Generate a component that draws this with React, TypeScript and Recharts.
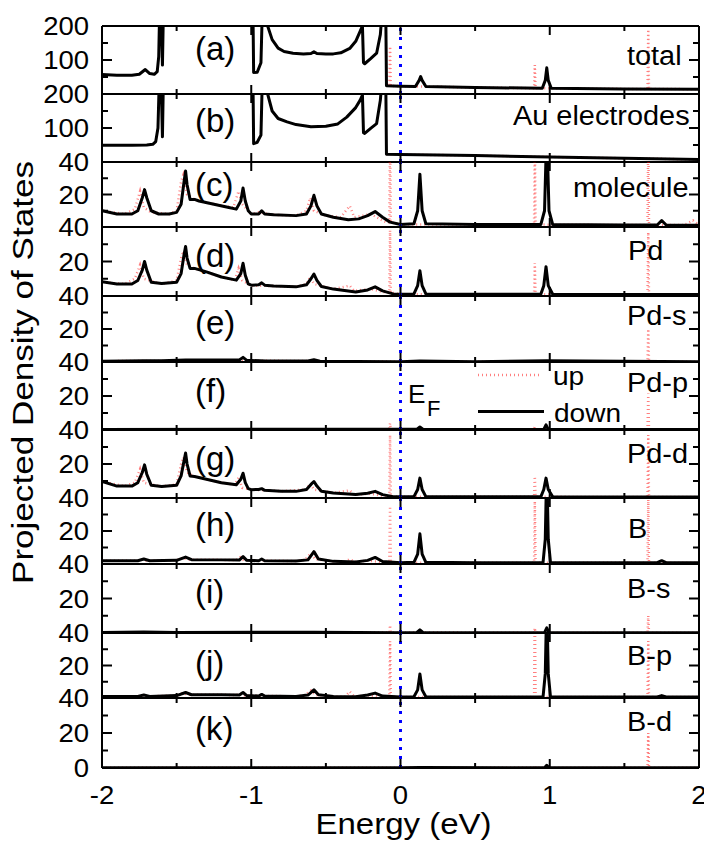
import React from 'react';
import { LineChart, Line, XAxis, YAxis, ReferenceLine } from 'recharts';

type Pt = [number, number];

const LETTERS = ['(a)', '(b)', '(c)', '(d)', '(e)', '(f)', '(g)', '(h)', '(i)', '(j)', '(k)'];
const NAMES = ['total', 'Au electrodes', 'molecule', 'Pd', 'Pd-s', 'Pd-p', 'Pd-d', 'B', 'B-s', 'B-p', 'B-d'];
const Y_MAX = [200, 200, 40, 40, 40, 40, 40, 40, 40, 40, 40];
const X_TICKS = [-2, -1.5, -1, -0.5, 0, 0.5, 1, 1.5, 2];

// spin down (black) and spin up (red dotted), [energy eV, PDOS]
const TOTAL_DN: Pt[] = [
  [-2, 57], [-1.9, 55], [-1.8, 55], [-1.75, 58], [-1.71, 72], [-1.68, 60], [-1.65, 58], [-1.63, 66],
  [-1.62, 110], [-1.613, 260], [-1.605, 260], [-1.595, 85], [-1.588, 260], [-1.3, 300], [-0.99, 300],
  [-0.984, 63], [-0.96, 64], [-0.935, 92], [-0.925, 260], [-0.9, 300], [-0.89, 200], [-0.86, 160],
  [-0.82, 135], [-0.78, 125], [-0.72, 120], [-0.65, 118], [-0.6, 119], [-0.58, 124], [-0.56, 119],
  [-0.5, 118], [-0.45, 118], [-0.4, 121], [-0.34, 134], [-0.3, 155], [-0.27, 185], [-0.255, 200],
  [-0.248, 92], [-0.24, 89], [-0.2, 104], [-0.16, 120], [-0.135, 175], [-0.12, 260], [-0.1, 300],
  [-0.094, 24], [0, 23], [0.1, 22], [0.125, 40], [0.135, 51], [0.145, 40], [0.17, 22], [0.5, 19],
  [0.95, 17], [0.97, 40], [0.98, 77], [0.99, 40], [1.01, 17], [1.5, 15], [2, 14],
];
const TOTAL_UP: Pt[] = [
  [-0.094, 24], [-0.075, 24], [-0.07, 140], [-0.065, 24], [0.5, 19], [0.895, 17], [0.9, 85], [0.905, 17],
  [1.5, 15], [1.655, 15], [1.66, 190], [1.665, 15], [2, 14],
];

const AU_DN: Pt[] = [
  [-2, 49], [-1.8, 49], [-1.7, 50], [-1.66, 52], [-1.64, 60], [-1.625, 100], [-1.615, 260], [-1.605, 260],
  [-1.595, 74], [-1.588, 260], [-1.3, 300], [-0.99, 300], [-0.984, 54], [-0.96, 58], [-0.935, 79],
  [-0.925, 260], [-0.9, 300], [-0.89, 200], [-0.86, 150], [-0.82, 128], [-0.76, 118], [-0.7, 110],
  [-0.6, 104], [-0.5, 105], [-0.42, 112], [-0.36, 132], [-0.3, 160], [-0.27, 182], [-0.255, 197],
  [-0.248, 86], [-0.24, 84], [-0.2, 99], [-0.16, 113], [-0.135, 182], [-0.12, 260], [-0.1, 300],
  [-0.094, 23], [0, 22], [0.5, 19], [1, 15], [1.5, 11], [2, 7],
];
const AU_UP: Pt[] = [
  [-0.094, 23], [0, 22], [0.5, 19], [1, 15], [1.5, 11], [1.655, 10], [1.66, 14], [1.665, 10], [2, 7],
];

const MOL_DN: Pt[] = [
  [-2, 10], [-1.9, 8], [-1.8, 8], [-1.76, 10], [-1.73, 18], [-1.715, 23], [-1.7, 18], [-1.67, 10],
  [-1.62, 8], [-1.55, 8], [-1.5, 9], [-1.47, 14], [-1.45, 28], [-1.44, 34.5], [-1.43, 26], [-1.41, 17],
  [-1.38, 17], [-1.35, 16], [-1.25, 14], [-1.15, 12], [-1.1, 11], [-1.07, 16], [-1.055, 24], [-1.04, 16],
  [-1.02, 10], [-1.0, 8], [-0.95, 8], [-0.93, 10], [-0.91, 8], [-0.85, 7.5], [-0.7, 7], [-0.63, 8],
  [-0.6, 13], [-0.58, 19.5], [-0.56, 13], [-0.53, 8], [-0.45, 6], [-0.35, 4.5], [-0.28, 5], [-0.22, 7],
  [-0.17, 9.5], [-0.12, 6], [-0.07, 3], [0, 1.5], [0.09, 2], [0.115, 10], [0.13, 32.5], [0.145, 10],
  [0.17, 2], [0.5, 1.5], [0.94, 1.5], [0.965, 10], [0.98, 60], [0.995, 10], [1.02, 1.5], [1.5, 1.2],
  [1.72, 1.2], [1.75, 4], [1.78, 1.2], [2, 1],
];
const MOL_UP: Pt[] = [
  [-2, 10], [-1.85, 8], [-1.78, 11], [-1.745, 22], [-1.72, 12], [-1.67, 9], [-1.55, 8], [-1.5, 10],
  [-1.47, 28], [-1.455, 32], [-1.43, 20], [-1.38, 17], [-1.25, 14], [-1.12, 12], [-1.085, 22], [-1.06, 14],
  [-1.0, 8], [-0.95, 9], [-0.85, 7.5], [-0.7, 7], [-0.63, 10], [-0.605, 18], [-0.58, 10], [-0.5, 7],
  [-0.4, 6], [-0.34, 13], [-0.31, 6], [-0.2, 8], [-0.1, 3], [-0.075, 3], [-0.07, 60], [-0.065, 3],
  [0, 1.5], [0.5, 1.5], [0.895, 1.5], [0.9, 60], [0.905, 1.5], [1.5, 1.2], [1.655, 1.2], [1.66, 60],
  [1.665, 1.2], [1.9, 1.2], [1.96, 4], [2, 1.2],
];

const PD_DN: Pt[] = [
  [-2, 8.2], [-1.9, 7], [-1.8, 7], [-1.76, 9], [-1.73, 15], [-1.715, 20], [-1.7, 15], [-1.67, 8],
  [-1.6, 7.2], [-1.5, 8], [-1.47, 13], [-1.45, 24], [-1.44, 28.7], [-1.43, 22], [-1.41, 16], [-1.38, 16],
  [-1.3, 14], [-1.2, 11], [-1.1, 9.2], [-1.07, 13], [-1.055, 19], [-1.04, 12], [-1.02, 7], [-1.0, 6.3],
  [-0.95, 6.5], [-0.93, 7.6], [-0.91, 6.3], [-0.85, 5.8], [-0.7, 5.3], [-0.63, 6.5], [-0.6, 10],
  [-0.58, 12.7], [-0.56, 9], [-0.53, 5.5], [-0.45, 4], [-0.3, 2.3], [-0.22, 3.5], [-0.17, 5.3],
  [-0.12, 3], [-0.05, 1.2], [0, 1], [0.09, 1.2], [0.115, 6], [0.13, 14.6], [0.145, 6], [0.17, 1.2],
  [0.5, 1], [0.94, 1], [0.96, 6], [0.975, 17], [0.99, 6], [1.02, 1], [2, 0.8],
];
const PD_UP: Pt[] = [
  [-2, 8], [-1.85, 7], [-1.78, 10], [-1.745, 18], [-1.72, 10], [-1.6, 7], [-1.5, 9], [-1.47, 22],
  [-1.455, 26], [-1.43, 18], [-1.38, 16], [-1.2, 11], [-1.11, 9.2], [-1.085, 16], [-1.06, 9], [-1.0, 6],
  [-0.85, 5.8], [-0.7, 5.3], [-0.63, 7], [-0.605, 11], [-0.58, 7], [-0.45, 4], [-0.34, 6], [-0.31, 3],
  [-0.2, 4], [-0.1, 2], [-0.075, 2], [-0.07, 38], [-0.065, 2], [0, 1], [0.5, 1], [0.895, 1], [0.9, 19],
  [0.905, 1], [1.5, 0.8], [1.655, 0.8], [1.66, 37], [1.665, 0.8], [2, 0.8],
];

const PDS_DN: Pt[] = [
  [-2, 0.5], [-1.72, 0.8], [-1.6, 0.8], [-1.44, 1.2], [-1.2, 1.2], [-1.08, 1.2], [-1.055, 2.8],
  [-1.03, 1], [-0.9, 0.6], [-0.62, 0.6], [-0.58, 1.4], [-0.54, 0.5], [-0.3, 0.3], [0, 0.2], [0.13, 0.6],
  [0.5, 0.2], [0.98, 0.8], [2, 0.2],
];
const PDS_UP: Pt[] = [
  [-2, 0.5], [-1.0, 0.8], [0, 0.2], [1.5, 0.2], [1.655, 0.2], [1.66, 20], [1.665, 0.2], [2, 0.2],
];

const PDP_DN: Pt[] = [
  [-2, 0.3], [-1, 0.4], [-0.5, 0.5], [0, 0.5], [0.11, 0.5], [0.13, 1.8], [0.15, 0.5], [0.5, 0.3],
  [0.96, 0.3], [0.975, 3], [0.99, 0.3], [2, 0.3],
];
const PDP_UP: Pt[] = [
  [-2, 0.3], [-0.075, 0.5], [-0.07, 4], [-0.065, 0.5], [0.5, 0.3], [0.895, 0.3], [0.9, 2], [0.905, 0.3],
  [1.655, 0.3], [1.66, 21.5], [1.665, 0.3], [2, 0.3],
];

const PDD_DN: Pt[] = [
  [-2, 9.7], [-1.9, 7], [-1.8, 7], [-1.76, 9], [-1.73, 15], [-1.715, 19.5], [-1.7, 14], [-1.67, 7.5],
  [-1.6, 6.8], [-1.5, 7.5], [-1.47, 13], [-1.45, 22], [-1.44, 26.5], [-1.43, 20], [-1.41, 13],
  [-1.38, 12.6], [-1.3, 11], [-1.2, 9], [-1.1, 7.8], [-1.07, 11], [-1.055, 14.6], [-1.04, 9], [-1.02, 5.5],
  [-1.0, 4.9], [-0.95, 5], [-0.93, 5.5], [-0.91, 4.5], [-0.8, 4], [-0.7, 3.9], [-0.63, 5], [-0.6, 8],
  [-0.58, 9.7], [-0.56, 7], [-0.53, 4], [-0.45, 3], [-0.3, 2], [-0.22, 2.8], [-0.17, 3.9], [-0.12, 2],
  [-0.05, 0.8], [0, 0.7], [0.09, 0.8], [0.115, 5], [0.13, 11.7], [0.145, 5], [0.17, 0.8], [0.5, 0.7],
  [0.94, 0.7], [0.96, 5], [0.975, 11.7], [0.99, 5], [1.02, 0.7], [2, 0.6],
];
const PDD_UP: Pt[] = [
  [-2, 9.5], [-1.85, 7], [-1.78, 9], [-1.745, 17], [-1.72, 9], [-1.6, 6.8], [-1.5, 8], [-1.47, 20],
  [-1.455, 24], [-1.43, 15], [-1.38, 12.6], [-1.2, 9], [-1.11, 7.8], [-1.085, 12], [-1.06, 6], [-1.0, 5],
  [-0.8, 4], [-0.63, 5], [-0.605, 8.5], [-0.58, 5], [-0.45, 3], [-0.34, 4.5], [-0.31, 2], [-0.2, 2.5],
  [-0.1, 1], [-0.075, 1], [-0.07, 37], [-0.065, 1], [0, 0.7], [0.5, 0.7], [0.895, 0.7], [0.9, 12.7],
  [0.905, 0.7], [1.5, 0.6], [1.655, 0.6], [1.66, 37], [1.665, 0.6], [2, 0.6],
];

const B_DN: Pt[] = [
  [-2, 2], [-1.76, 2], [-1.72, 3], [-1.68, 2], [-1.5, 2.2], [-1.44, 4.2], [-1.4, 2.6], [-1.2, 2.5],
  [-1.08, 2.4], [-1.055, 4.5], [-1.03, 2.2], [-0.95, 2], [-0.93, 3], [-0.91, 2], [-0.7, 1.8], [-0.62, 2.5],
  [-0.58, 7.5], [-0.55, 3], [-0.45, 1.6], [-0.3, 1.2], [-0.22, 2.2], [-0.17, 4], [-0.12, 1.5], [0, 0.8],
  [0.09, 1], [0.115, 6], [0.13, 18.3], [0.145, 6], [0.17, 1], [0.5, 0.8], [0.955, 0.8], [0.97, 15],
  [0.98, 60], [0.99, 15], [1.005, 0.8], [1.72, 0.8], [1.75, 2], [1.78, 0.8], [2, 0.8],
];
const B_UP: Pt[] = [
  [-2, 2], [-1.76, 2], [-1.74, 2.8], [-1.71, 2], [-1.5, 2.2], [-1.46, 3.8], [-1.42, 2.6], [-1.2, 2.5],
  [-1.1, 2.4], [-1.075, 4], [-1.05, 2.2], [-0.7, 1.8], [-0.64, 2.5], [-0.6, 6.5], [-0.57, 2.8],
  [-0.45, 1.6], [-0.37, 1.4], [-0.34, 3], [-0.31, 1.3], [-0.22, 2], [-0.1, 1], [-0.075, 1], [-0.07, 35],
  [-0.065, 1], [0, 0.8], [0.5, 0.8], [0.895, 0.8], [0.9, 38], [0.905, 0.8], [1.5, 0.8], [1.655, 0.8],
  [1.66, 39], [1.665, 0.8], [2, 0.8],
];

const BS_DN: Pt[] = [
  [-2, 0.3], [-1.72, 0.6], [-1.5, 0.3], [-0.58, 0.5], [0, 0.2], [0.11, 0.3], [0.13, 1.8], [0.15, 0.3],
  [0.5, 0.2], [0.965, 0.2], [0.98, 3], [0.995, 0.2], [2, 0.2],
];
const BS_UP: Pt[] = [
  [-2, 0.3], [-0.075, 0.3], [-0.07, 4.5], [-0.065, 0.3], [0.5, 0.2], [0.895, 0.2], [0.9, 3], [0.905, 0.2],
  [1.655, 0.2], [1.66, 10], [1.665, 0.2], [2, 0.2],
];

const BP_DN: Pt[] = [
  [-2, 1], [-1.76, 1], [-1.72, 1.8], [-1.68, 1], [-1.5, 1.5], [-1.44, 3.4], [-1.4, 2], [-1.2, 2],
  [-1.08, 1.8], [-1.055, 3.4], [-1.03, 1.5], [-0.95, 1.2], [-0.93, 2.2], [-0.91, 1.2], [-0.7, 1],
  [-0.62, 1.8], [-0.58, 5], [-0.55, 2], [-0.45, 1], [-0.3, 0.8], [-0.22, 1.8], [-0.17, 3], [-0.12, 1.2],
  [0, 0.6], [0.09, 0.8], [0.115, 5], [0.13, 14.8], [0.145, 5], [0.17, 0.8], [0.5, 0.6], [0.955, 0.6],
  [0.97, 15], [0.98, 60], [0.99, 15], [1.005, 0.6], [1.72, 0.6], [1.75, 1.5], [1.78, 0.6], [2, 0.6],
];
const BP_UP: Pt[] = [
  [-2, 1], [-1.76, 1], [-1.74, 1.6], [-1.71, 1], [-1.5, 1.5], [-1.46, 3], [-1.42, 2], [-1.2, 2],
  [-1.1, 1.8], [-1.075, 3], [-1.05, 1.5], [-0.7, 1], [-0.64, 1.8], [-0.6, 4.5], [-0.57, 1.8], [-0.45, 1],
  [-0.37, 0.9], [-0.34, 4], [-0.31, 0.9], [-0.22, 1.6], [-0.1, 0.8], [-0.075, 0.8], [-0.07, 35],
  [-0.065, 0.8], [0, 0.6], [0.5, 0.6], [0.895, 0.6], [0.9, 60], [0.905, 0.6], [1.5, 0.6], [1.655, 0.6],
  [1.66, 35], [1.665, 0.6], [2, 0.6],
];

const BD_DN: Pt[] = [
  [-2, 0.1], [0, 0.1], [0.13, 0.3], [0.965, 0.1], [0.98, 1.5], [0.995, 0.1], [2, 0.1],
];
const BD_UP: Pt[] = [
  [-2, 0.1], [0.895, 0.1], [0.9, 1.5], [0.905, 0.1], [1.655, 0.1], [1.66, 20], [1.665, 0.1], [2, 0.1],
];

const DOWN = [TOTAL_DN, AU_DN, MOL_DN, PD_DN, PDS_DN, PDP_DN, PDD_DN, B_DN, BS_DN, BP_DN, BD_DN];
const UP = [TOTAL_UP, AU_UP, MOL_UP, PD_UP, PDS_UP, PDP_UP, PDD_UP, B_UP, BS_UP, BP_UP, BD_UP];

// layout (page pixels)
const W = 704;
const L = 102;
const R = 699;
const TOPS = [26, 94, 162, 227, 296, 362, 430, 498, 564, 633, 698, 768];
const PAD = 16;
const PAD_LAST = 52;
const NAME_X = [627, 513, 573, 628, 627, 627, 627, 628, 627, 627, 627];
const NAME_DY = [39, 31, 35, 33, 29, 30, 33, 40, 34, 32, 33];
const LETTER_DY = [34, 38, 34, 40, 38, 40, 40, 38, 39, 41, 42];
const FONT = "'Liberation Sans', Arial, Helvetica, sans-serif";
const RED = { stroke: '#ff0000', strokeOpacity: 0.5, strokeWidth: 2.5, strokeDasharray: '1 3' };

const toObj = (d: Pt[]) => d.map(([e, v]) => ({ e, v }));

const YTick = (p: any) => {
  const { y, payload, max, last } = p;
  const v = payload.value;
  const major = v === 0 || v === max / 2 || v === max;
  const len = major ? 10 : 6;
  const label = major && (v !== 0 || last);
  return (
    <g>
      <line x1={L} x2={L + len} y1={y} y2={y} stroke="#000" strokeWidth={2} />
      <line x1={R} x2={R - len} y1={y} y2={y} stroke="#000" strokeWidth={2} />
      {label && (
        <text transform={`translate(89,${y + 9}) scale(1.1,1)`} textAnchor="end" fontSize={25} fontFamily={FONT} fill="#000">
          {v}
        </text>
      )}
    </g>
  );
};

const XTick = (p: any) => {
  const { x, payload, top, bottom, last } = p;
  const v = payload.value;
  const major = Number.isInteger(v);
  const len = major ? 9 : 5;
  return (
    <g>
      <line x1={x} x2={x} y1={bottom} y2={bottom - len} stroke="#000" strokeWidth={2} />
      <line x1={x} x2={x} y1={top} y2={top + len} stroke="#000" strokeWidth={2} />
      {last && major && (
        <text transform={`translate(${x},${bottom + 36}) scale(1.1,1)`} textAnchor="middle" fontSize={25} fontFamily={FONT} fill="#000">
          {v}
        </text>
      )}
    </g>
  );
};

function Panel({ i }: { i: number }) {
  const top = TOPS[i];
  const h = TOPS[i + 1] - top;
  const last = i === LETTERS.length - 1;
  const padB = last ? PAD_LAST : PAD;
  const max = Y_MAX[i];
  const yTicks = [0, max / 4, max / 2, (3 * max) / 4, max];
  const axisLine = { stroke: '#000', strokeWidth: 2 };
  return (
    <div style={{ position: 'absolute', left: 0, top: top - PAD }}>
      <LineChart width={W} height={PAD + h + padB} margin={{ top: PAD, right: W - R, bottom: 0, left: 0 }}>
        <XAxis
          type="number"
          dataKey="e"
          domain={[-2, 2]}
          ticks={X_TICKS}
          interval={0}
          height={padB}
          allowDataOverflow
          axisLine={axisLine}
          tickLine={false}
          tick={<XTick top={PAD} bottom={PAD + h} last={last} />}
        />
        <YAxis
          type="number"
          domain={[0, max]}
          ticks={yTicks}
          interval={0}
          width={L}
          allowDataOverflow
          axisLine={axisLine}
          tickLine={false}
          tick={<YTick max={max} last={last} />}
        />
        <ReferenceLine y={max} stroke="#000" strokeWidth={2} />
        <ReferenceLine x={2} stroke="#000" strokeWidth={2} />
        <Line data={toObj(UP[i])} dataKey="v" type="linear" {...RED} dot={false} isAnimationActive={false} />
        <Line
          data={toObj(DOWN[i])}
          dataKey="v"
          type="linear"
          stroke="#000"
          strokeWidth={3}
          strokeLinejoin="round"
          dot={false}
          isAnimationActive={false}
        />
        <ReferenceLine x={0} stroke="#0000ff" strokeWidth={3} strokeDasharray="3 6" />
      </LineChart>
    </div>
  );
}

const T = ({ x, y, sx = 1, size, anchor = 'start', children }: any) => (
  <text transform={`translate(${x},${y}) scale(${sx},1)`} textAnchor={anchor} fontSize={size} fontFamily={FONT} fill="#000">
    {children}
  </text>
);

export default function App() {
  return (
    <div style={{ position: 'absolute', left: 0, top: 0, width: W, height: 843, background: '#fff', overflow: 'hidden' }}>
      {LETTERS.map((_, i) => (
        <Panel key={i} i={i} />
      ))}
      <svg width={W} height={843} style={{ position: 'absolute', left: 0, top: 0, pointerEvents: 'none' }}>
        {LETTERS.map((s, i) => (
          <T key={s} x={195} y={TOPS[i] + LETTER_DY[i]} size={33}>
            {s}
          </T>
        ))}
        {NAMES.map((s, i) => (
          <T key={s} x={NAME_X[i]} y={TOPS[i] + NAME_DY[i]} sx={1.07} size={27}>
            {s}
          </T>
        ))}
        <line x1={478} x2={542} y1={375} y2={375} {...RED} />
        <T x={553} y={385} sx={1.08} size={26}>up</T>
        <line x1={478} x2={544} y1={411.5} y2={411.5} stroke="#000" strokeWidth={3} />
        <T x={554} y={421.5} sx={1.08} size={26}>down</T>
        <T x={408} y={403} sx={1.05} size={25}>E</T>
        <T x={427} y={416} size={22}>F</T>
        <T x={403.5} y={834} sx={1.1} size={30} anchor="middle">Energy (eV)</T>
        <text transform="translate(33,372.5) rotate(-90) scale(1.17,1)" textAnchor="middle" fontSize={30} fontFamily={FONT} fill="#000">
          Projected Density of States
        </text>
      </svg>
    </div>
  );
}
